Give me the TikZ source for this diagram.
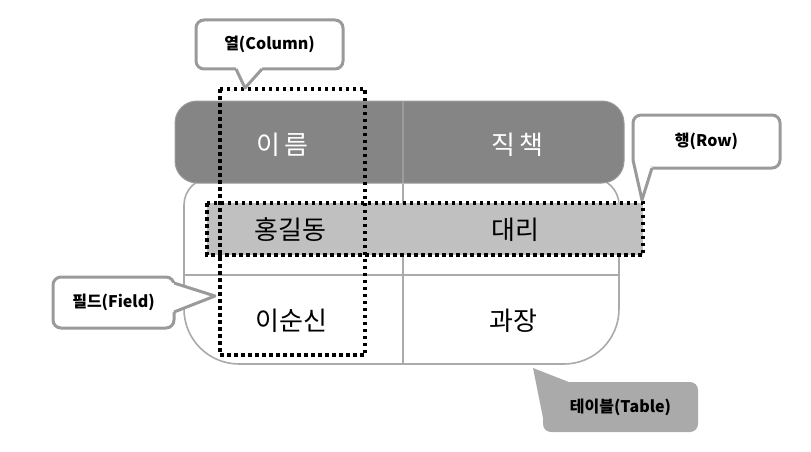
\documentclass[tikz,border=0pt]{standalone}
\usepackage{fontspec}
\newfontfamily\kr{Noto Sans CJK KR}
\definecolor{headgray}{HTML}{858585}
\definecolor{headline}{HTML}{9C9C9C}
\definecolor{linegray}{HTML}{AAAAAA}
\definecolor{bandgray}{HTML}{C0C0C0}
\definecolor{tipgray}{HTML}{9A9A9A}
\definecolor{tablegray}{HTML}{AAAAAA}

\tikzset{
  tabline/.style={draw=linegray, line width=1.6pt},
  dotbox/.style={line width=3.5pt, dash pattern=on 3.5pt off 3.5pt},
  cell/.style={font=\kr\fontsize{26}{26}\selectfont},
  headcell/.style={cell, text=white},
  tipbox/.style={draw=tipgray, line width=3pt, fill=white, rounded corners=8pt,
    inner sep=0pt, font=\kr\bfseries\fontsize{16}{16}\selectfont},
  tipline/.style={draw=tipgray, line width=3pt, line join=round}
}

\begin{document}
\begin{tikzpicture}[x=1pt,y=-1pt]
  \useasboundingbox (0,0) rectangle (811,452);
  % table body
  \draw[tabline, fill=white] (184,205) -- (184,309) arc[start angle=180, end angle=90, radius=55]
    -- (564,364) arc[start angle=90, end angle=0, radius=55]
    -- (619,205) arc[start angle=0, end angle=-90, radius=27]
    -- (211,178) arc[start angle=-90, end angle=-180, radius=27] -- cycle;
  \draw[tabline] (184,275) -- (619,275);
  \draw[tabline] (403,184) -- (403,364);
  % header
  \draw[draw=headline, line width=1pt, fill=headgray, rounded corners=22pt] (175,101) rectangle (624,183);
  \draw[draw=headline, line width=1.6pt] (403,101) -- (403,183);
  % row
  \draw[dotbox, fill=bandgray] (207,203) rectangle (643,255);
  \node[headcell] (name) at (282.5,145) {이\hspace{5pt}름};
  \node[headcell] (job) at (517.5,145) {직\hspace{5pt}책};
  \node[cell] (hong) at (290.5,230) {홍길동};
  \node[cell] (dae) at (515,230) {대리};
  \node[cell] (lee) at (291.5,320.5) {이순신};
  \node[cell] (gwa) at (513.5,320.5) {과장};
  % column
  \draw[dotbox] (220,89) rectangle (365,355);

  % callouts
  \node[tipbox, minimum width=147pt, minimum height=49pt] (coltip) at (269.5,44.5) {열(Column)};
  \fill[white] (236,66) -- (236,69) -- (245,88) -- (262,69) -- (262,66) -- cycle;
  \draw[tipline] (236,69) -- (245,88) -- (262,69);

  \node[tipbox, minimum width=147pt, minimum height=53pt] (rowtip) at (706.5,141.5) {행(Row)};
  \fill[white] (631,160) -- (642,201) -- (653,168) -- (640,160) -- cycle;
  \draw[tipline] (633,160) -- (642,200) -- (652,168);

  \node[tipbox, minimum width=121pt, minimum height=51pt] (fieldtip) at (113.5,302.5) {필드(Field)};
  \fill[white] (171,283) -- (174,283) -- (215,296) -- (174,312) -- (171,312) -- cycle;
  \draw[tipline] (174,283) -- (215,296) -- (174,312);

  \node[tipbox, draw=none, fill=tablegray, minimum width=155pt, minimum height=50pt] (tabletip) at (620.5,407) {테이블(Table)};
  \fill[tablegray] (533,368) -- (570,382.5) -- (560,395) -- (543,418) -- cycle;
\end{tikzpicture}
\end{document}
